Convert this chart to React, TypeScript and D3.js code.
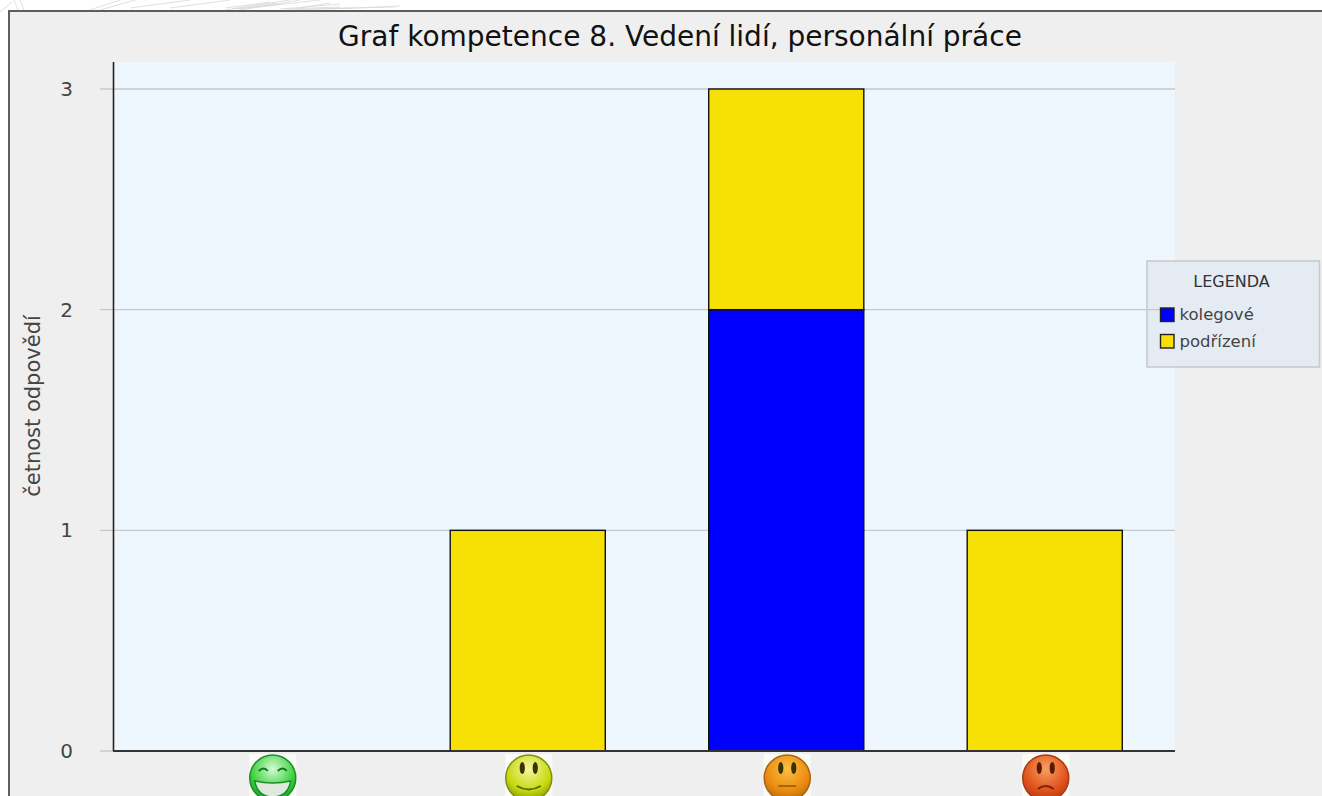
import React from "react";
import * as d3 from "d3";

const categories = ["velmi dobře", "dobře", "průměrně", "špatně"];
const seriesNames = ["kolegové", "podřízení"];
const kolegove = [0, 0, 2, 0];
const podrizeni = [0, 1, 1, 1];
const seriesColors = ["#0000ff", "#f7e006"];
const yTicks = [0, 1, 2, 3];
const titleText = "Graf kompetence 8. Vedení lidí, personální práce";
const yLabel = "četnost odpovědí";
const legendTitle = "LEGENDA";
const faceColors = [
  ["#d8f8d8", "#35d135", "#1c8f2c"],
  ["#f4f7a0", "#c6d80c", "#7f8f10"],
  ["#fbc040", "#ea8a10", "#a9640f"],
  ["#f8a060", "#e0501a", "#a83a14"],
];
const decoLines = [
  "M0 12 L12 2", "M18 10 L14 0", "M24 10 L20 0", "M90 10 L120 0", "M100 10 L135 0", "M130 8 L190 0",
  "M170 8 L230 0", "M225 10 L290 0", "M240 10 L300 0", "M250 8 L320 0", "M300 8 L330 3",
  "M225 8 L270 2", "M232 9 L276 3", "M238 9 L282 4", "M280 9 L340 4", "M285 9 L340 7",
  "M290 10 L350 8", "M310 9 L395 7", "M330 9 L400 6",
];

const Face = ({ i, cx }: { i: number; cx: number }) => {
  const cy = 778;
  const r = 23;
  const dark = faceColors[i][2];
  return (
    <g>
      <rect x={cx - r - 0.5} y={cy - r - 1} width={2 * r + 1} height={2 * r + 2} fill="#fbfbf6" />
      <circle cx={cx} cy={cy} r={r} fill={`url(#face${i})`} stroke={dark} strokeWidth={1.5} />
      {i === 0 ? (
        <g>
          <path d={`M${cx - 14} ${cy - 7} q5 -5 9 0 M${cx + 5} ${cy - 7} q5 -5 9 0`} fill="none" stroke="#0c7a1c" strokeWidth={2} />
          <path d={`M${cx - 18} ${cy + 3} Q${cx} ${cy + 7} ${cx + 18} ${cy + 3} Q${cx + 15} ${cy + 19} ${cx} ${cy + 19} Q${cx - 15} ${cy + 19} ${cx - 18} ${cy + 3} Z`} fill="#dfe8dc" stroke="#1c8f2c" strokeWidth={1.5} />
        </g>
      ) : (
        <g>
          <ellipse cx={cx - 6.5} cy={cy - 10} rx={2.6} ry={6} fill={i === 3 ? "#5a1a08" : "#3a3200"} />
          <ellipse cx={cx + 6.5} cy={cy - 10} rx={2.6} ry={6} fill={i === 3 ? "#5a1a08" : "#3a3200"} />
          {i === 1 && <path d={`M${cx - 12} ${cy + 8} Q${cx} ${cy + 15} ${cx + 12} ${cy + 8}`} fill="none" stroke="#5a6a00" strokeWidth={2} />}
          {i === 2 && <path d={`M${cx - 9} ${cy + 8} L${cx + 9} ${cy + 8}`} fill="none" stroke="#a9640f" strokeWidth={2} />}
          {i === 3 && <path d={`M${cx - 8} ${cy + 11} Q${cx} ${cy + 5} ${cx + 8} ${cy + 11}`} fill="none" stroke="#7a2408" strokeWidth={2} />}
        </g>
      )}
    </g>
  );
};

export default function App() {
  const x = d3.scaleBand<string>().domain(categories).range([140, 1174]).paddingInner(0.4).paddingOuter(0.2);
  const y = d3.scaleLinear().domain([0, 3]).range([751, 89]);
  const rows = categories.map((c, i) => ({ c, [seriesNames[0]]: kolegove[i], [seriesNames[1]]: podrizeni[i] }));
  const stacked = d3.stack<any>().keys(seriesNames)(rows);
  const font = "'DejaVu Sans', sans-serif";

  return (
    <svg width={1322} height={796} style={{ position: "fixed", left: 0, top: 0, display: "block", background: "#fff" }}>
      <defs>
        {faceColors.map((c, i) => (
          <radialGradient key={i} id={`face${i}`} cx="50%" cy="30%" r="75%">
            <stop offset="0%" stopColor={c[0]} />
            <stop offset="65%" stopColor={c[1]} />
            <stop offset="100%" stopColor={c[2]} />
          </radialGradient>
        ))}
      </defs>
      <g stroke="#d8d8d8" strokeWidth={0.8} fill="none">
        {decoLines.map((d, i) => <path key={i} d={d} />)}
      </g>
      <rect x={9} y={11} width={1320} height={800} fill="#efefef" stroke="#5e5e5e" strokeWidth={2} />
      <text x={680} y={45.5} textAnchor="middle" fontFamily={font} fontSize={28} fill="#111">{titleText}</text>

      <rect x={114} y={62} width={1061} height={689} fill="#eef6fe" />
      {yTicks.map((t) => (
        <g key={t}>
          <line x1={100} x2={1175} y1={y(t)} y2={y(t)} stroke="#c6c9cc" strokeWidth={1.3} />
          <text x={66.5} y={y(t) + 7} textAnchor="middle" fontFamily={font} fontSize={20} fill="#444">{t}</text>
        </g>
      ))}
      {stacked.map((s, si) =>
        s.map((d, i) =>
          d[1] > d[0] ? (
            <rect
              key={`${si}-${i}`}
              x={x(categories[i])}
              y={y(d[1])}
              width={x.bandwidth()}
              height={y(d[0]) - y(d[1])}
              fill={seriesColors[si]}
              stroke="#111"
              strokeWidth={1.4}
            />
          ) : null
        )
      )}
      <line x1={113.5} x2={113.5} y1={62} y2={751} stroke="#222" strokeWidth={1.6} />
      <line x1={113} x2={1175} y1={751} y2={751} stroke="#333" strokeWidth={1.8} />
      <text transform="translate(40,406) rotate(-90)" textAnchor="middle" fontFamily={font} fontSize={21} fill="#444">{yLabel}</text>

      {categories.map((c, i) => (
        <Face key={c} i={i} cx={(x(c) as number) + x.bandwidth() / 2 + (i === 0 ? 3.5 : 1)} />
      ))}

      <rect x={1147} y={261} width={172.5} height={106} fill="#e4ebf3" stroke="#c8c8c8" strokeWidth={1.5} />
      <line x1={1147} x2={1160} y1={y(2)} y2={y(2)} stroke="#c6c9cc" strokeWidth={1.3} />
      <text x={1231.5} y={287} textAnchor="middle" fontFamily={font} fontSize={16} fill="#333">{legendTitle}</text>
      {seriesNames.map((n, i) => (
        <g key={n}>
          <rect x={1160.5} y={308 + i * 26.5} width={13.5} height={13.5} fill={seriesColors[i]} stroke="#222" strokeWidth={1.4} />
          <text x={1179.5} y={320 + i * 26.5} fontFamily={font} fontSize={16.5} fill="#444">{n}</text>
        </g>
      ))}
    </svg>
  );
}
